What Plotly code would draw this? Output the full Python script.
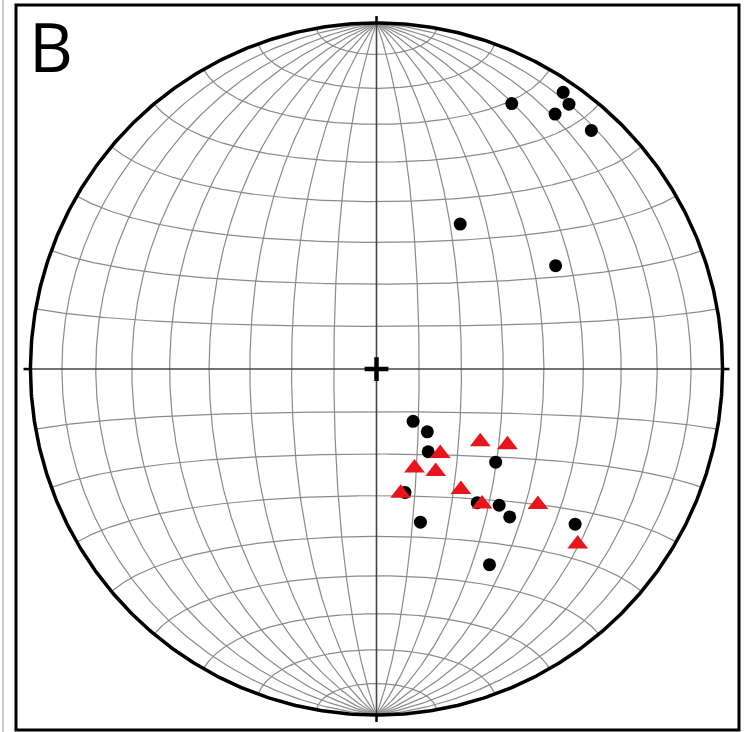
import numpy as np
import plotly.graph_objects as go

# ---- data: lower-hemisphere lineations (trend, plunge in degrees) ----
circle_trend = [27, 34, 36, 35, 42, 30, 60,
                145, 141, 148, 128, 167, 143, 138, 138, 164, 128, 150]
circle_plunge = [15, 4, 6, 11, 8, 50, 40,
                 75, 71, 67, 54, 60, 50, 46, 42, 52, 28, 35]

tri_trend = [143, 125, 120, 159, 150, 169, 145, 142, 130, 131]
tri_plunge = [65, 60, 54, 65, 62, 60, 55, 49, 39, 24]

grid_step = 10  # degrees
panel_label = "B"


def project(trend, plunge):
    t = np.radians(np.asarray(trend, float))
    p = np.radians(np.asarray(plunge, float))
    r = np.sqrt(2) * np.sin((np.pi / 2 - p) / 2)
    return r * np.sin(t), r * np.cos(t)


def lam_eq(lon, lat):
    # equatorial-aspect Lambert equal-area, unit primitive
    k = np.sqrt(2 / (1 + np.cos(lat) * np.cos(lon))) / np.sqrt(2)
    return k * np.cos(lat) * np.sin(lon), k * np.sin(lat)


fig = go.Figure()

gx, gy = [], []
phi = np.radians(np.linspace(-90, 90, 361))
for lon in range(-90 + grid_step, 90, grid_step):
    if lon == 0:
        continue
    x, y = lam_eq(np.radians(lon), phi)
    gx += list(x) + [None]
    gy += list(y) + [None]
lam = np.radians(np.linspace(-90, 90, 361))
for lat in range(-90 + grid_step, 90, grid_step):
    if lat == 0:
        continue
    x, y = lam_eq(lam, np.radians(lat))
    gx += list(x) + [None]
    gy += list(y) + [None]
fig.add_trace(go.Scatter(x=gx, y=gy, mode="lines",
                         line=dict(color="#8a8a8a", width=1.2), hoverinfo="skip"))

# diameters
fig.add_trace(go.Scatter(x=[-1, 1, None, 0, 0], y=[0, 0, None, -1, 1], mode="lines",
                         line=dict(color="#444444", width=1.6), hoverinfo="skip"))

# primitive circle
th = np.linspace(0, 2 * np.pi, 721)
fig.add_trace(go.Scatter(x=np.cos(th), y=np.sin(th), mode="lines",
                         line=dict(color="black", width=3.5), hoverinfo="skip"))
# cardinal ticks
fig.add_trace(go.Scatter(x=[0, 0, None, 1, 1.02, None, 0, 0, None, -1, -1.02],
                         y=[1, 1.02, None, 0, 0, None, -1, -1.02, None, 0, 0],
                         mode="lines", line=dict(color="black", width=2.5), hoverinfo="skip"))
# centre cross
fig.add_trace(go.Scatter(x=[0], y=[0], mode="markers",
                         marker=dict(symbol="cross-thin", size=17,
                                     line=dict(color="black", width=4.5)), hoverinfo="skip"))

cx, cy = project(circle_trend, circle_plunge)
fig.add_trace(go.Scatter(x=cx, y=cy, mode="markers",
                         marker=dict(symbol="circle", size=13, color="black")))
tx, ty = project(tri_trend, tri_plunge)
fig.add_trace(go.Scatter(x=tx, y=ty, mode="markers",
                         marker=dict(symbol="triangle-up", size=18, color="#e8161c")))

W, H = 753, 732
fig.add_shape(type="rect", xref="paper", yref="paper",
              x0=16 / W, x1=739 / W, y0=1 - 730 / H, y1=1 - 5 / H,
              line=dict(color="black", width=3))
fig.add_shape(type="line", xref="paper", yref="paper",
              x0=3 / W, x1=3 / W, y0=0, y1=1,
              line=dict(color="#c8ccd4", width=2))

fig.add_annotation(text=panel_label, xref="paper", yref="paper",
                   x=27 / W, y=1 - 45 / H, xanchor="left", yanchor="middle",
                   showarrow=False, font=dict(family="Open Sans", size=68, color="black"))

fig.update_layout(
    width=W, height=H, margin=dict(l=0, r=0, t=0, b=0),
    paper_bgcolor="white", plot_bgcolor="white", showlegend=False,
    xaxis=dict(range=[-1.088, 1.088], visible=False, fixedrange=True),
    yaxis=dict(range=[-1.049, 1.0665], visible=False, fixedrange=True),
)

fig.write_html("out.html", config={"displayModeBar": False},
               post_script="document.body.style.margin='0';document.body.style.overflow='hidden';")
